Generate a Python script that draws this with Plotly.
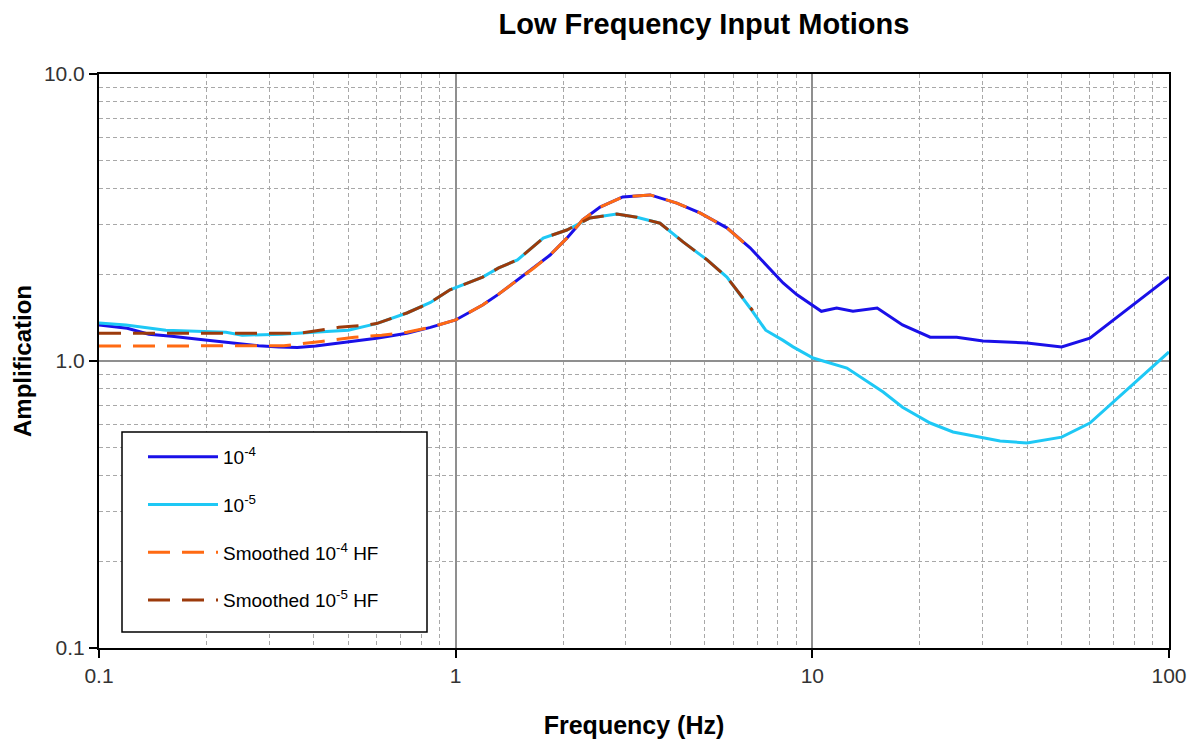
import plotly.graph_objects as go

# ---- data ----
freq_1e4 = [0.1, 0.12, 0.138, 0.16, 0.19, 0.236, 0.28, 0.32, 0.36, 0.405, 0.45, 0.5, 0.6, 0.73, 0.85,
            1.0, 1.19, 1.32, 1.49, 1.65, 1.84, 2.05, 2.27, 2.54, 2.94, 3.51, 4.17, 4.84, 5.76, 6.69,
            7.6, 8.28, 9.06, 10.3, 10.6, 11.7, 13.0, 15.2, 17.9, 21.4, 25.4, 30.1, 40, 50, 60, 100]
amp_1e4 = [1.335, 1.30, 1.24, 1.22, 1.19, 1.155, 1.13, 1.119, 1.115, 1.127, 1.145, 1.165, 1.20, 1.25, 1.31,
           1.39, 1.567, 1.71, 1.914, 2.1, 2.34, 2.68, 3.10, 3.44, 3.73, 3.79, 3.55, 3.28, 2.91, 2.48,
           2.1, 1.87, 1.70, 1.53, 1.49, 1.53, 1.49, 1.53, 1.335, 1.21, 1.21, 1.174, 1.155, 1.119, 1.20, 1.96]

freq_1e5 = [0.1, 0.119, 0.154, 0.2, 0.227, 0.252, 0.326, 0.4, 0.5, 0.6, 0.73, 0.85, 0.964, 1.19, 1.32,
            1.49, 1.76, 2.05, 2.38, 2.83, 3.22, 3.74, 4.34, 5.07, 5.76, 6.69, 7.4, 8.28, 8.83, 10.05,
            12.5, 15.8, 17.9, 21.4, 24.8, 33.6, 40, 50, 60, 100]
amp_1e5 = [1.356, 1.335, 1.28, 1.27, 1.26, 1.23, 1.24, 1.26, 1.28, 1.35, 1.47, 1.6, 1.77, 1.96, 2.11,
           2.25, 2.68, 2.86, 3.15, 3.25, 3.17, 3.02, 2.6, 2.25, 1.96, 1.53, 1.28, 1.18, 1.12, 1.024,
           0.945, 0.78, 0.69, 0.608, 0.566, 0.526, 0.518, 0.543, 0.608, 1.075]

freq_s1e4 = [0.1, 0.2, 0.3, 0.33, 0.42, 0.52, 0.62, 0.73, 0.85, 1.0, 1.19, 1.32, 1.49, 1.65, 1.84,
             2.05, 2.27, 2.54, 2.94, 3.51, 4.17, 4.84, 5.76, 6.8]
amp_s1e4 = [1.128, 1.128, 1.128, 1.13, 1.17, 1.21, 1.23, 1.26, 1.31, 1.39, 1.567, 1.71, 1.914, 2.1, 2.34,
            2.68, 3.10, 3.44, 3.73, 3.79, 3.55, 3.28, 2.91, 2.43]

freq_s1e5 = [0.1, 0.2, 0.3, 0.365, 0.47, 0.55, 0.6, 0.73, 0.85, 0.964, 1.19, 1.32, 1.49, 1.76, 2.05,
             2.38, 2.83, 3.22, 3.74, 4.34, 5.07, 5.76, 6.8]
amp_s1e5 = [1.25, 1.25, 1.25, 1.25, 1.31, 1.33, 1.35, 1.47, 1.6, 1.77, 1.96, 2.11, 2.25, 2.68, 2.86,
            3.15, 3.25, 3.17, 3.02, 2.6, 2.25, 1.96, 1.50]

series_names = ["10<sup>-4</sup>", "10<sup>-5</sup>",
                "Smoothed 10<sup>-4</sup> HF", "Smoothed 10<sup>-5</sup> HF"]

x_tickvals = [0.1, 1, 10, 100]
x_ticktext = ["0.1", "1", "10", "100"]
y_tickvals = [0.1, 1, 10]
y_ticktext = ["0.1", "1.0", "10.0"]

# ---- figure ----
FONT = "Liberation Sans, Arial, sans-serif"
fig = go.Figure()
styles = [
    dict(color="#1a10e8", width=3, dash="solid"),
    dict(color="#1ec8f5", width=3, dash="solid"),
    dict(color="#ff6a13", width=3, dash="22px,12px"),
    dict(color="#9c3a0b", width=3, dash="22px,12px"),
]
data = [(freq_1e4, amp_1e4), (freq_1e5, amp_1e5), (freq_s1e4, amp_s1e4), (freq_s1e5, amp_s1e5)]
for i, ((fx, ay), nm, st) in enumerate(zip(data, series_names, styles)):
    fig.add_trace(go.Scatter(x=fx, y=ay, mode="lines", name=nm, line=st,
                             legendgroup=f"g{i}"))

grid_major = "#8f8f8f"
grid_minor = "#a8a8a8"
axis_common = dict(
    type="log", showline=True, linecolor="black", linewidth=2, mirror=True,
    ticks="outside", ticklen=8, tickcolor="black", tickwidth=1.5,
    showgrid=True, gridcolor=grid_major, gridwidth=1.5,
    tickfont=dict(family=FONT, size=21, color="#333"),
    minor=dict(dtick="D1", showgrid=True, gridcolor=grid_minor, gridwidth=1,
               griddash="4px,3px", ticks=""),
    zeroline=False, automargin=False,
)
fig.update_xaxes(**axis_common, range=[-1, 2], tickmode="array",
                 tickvals=x_tickvals, ticktext=x_ticktext,
                 title=dict(text="<b>Frequency (Hz)</b>", font=dict(family=FONT, size=25, color="black"),
                            standoff=30))
fig.update_yaxes(**axis_common, range=[-1, 1], tickmode="array",
                 tickvals=y_tickvals, ticktext=y_ticktext,
                 title=dict(text="<b>Amplification</b>", font=dict(family=FONT, size=24, color="black"),
                            standoff=6))

# legend frame (the legend itself is borderless and placed inside it)
fig.add_shape(type="rect", xref="paper", yref="paper",
              x0=(122 - 99) / 1070, x1=(427 - 99) / 1070,
              y0=(648 - 632) / 574, y1=(648 - 432) / 574,
              line=dict(color="black", width=1.5), fillcolor="white", layer="above")

fig.update_layout(
    width=1203, height=745,
    margin=dict(l=99, r=34, t=74, b=97, autoexpand=False),
    paper_bgcolor="white", plot_bgcolor="white",
    title=dict(text="<b>Low Frequency Input Motions</b>", x=704 / 1203, xanchor="center",
               y=1 - 24 / 745, yanchor="middle",
               font=dict(family=FONT, size=29, color="black")),
    legend=dict(x=(143 - 99) / 1070, y=(648 - 438) / 574, xanchor="left", yanchor="top",
                bgcolor="rgba(0,0,0,0)", borderwidth=0,
                font=dict(family=FONT, size=19, color="black"),
                itemwidth=70, tracegroupgap=20, traceorder="grouped"),
    showlegend=True,
)

fig.write_html("out.html", config={"displayModeBar": False},
               post_script="document.body.style.margin='0';")
